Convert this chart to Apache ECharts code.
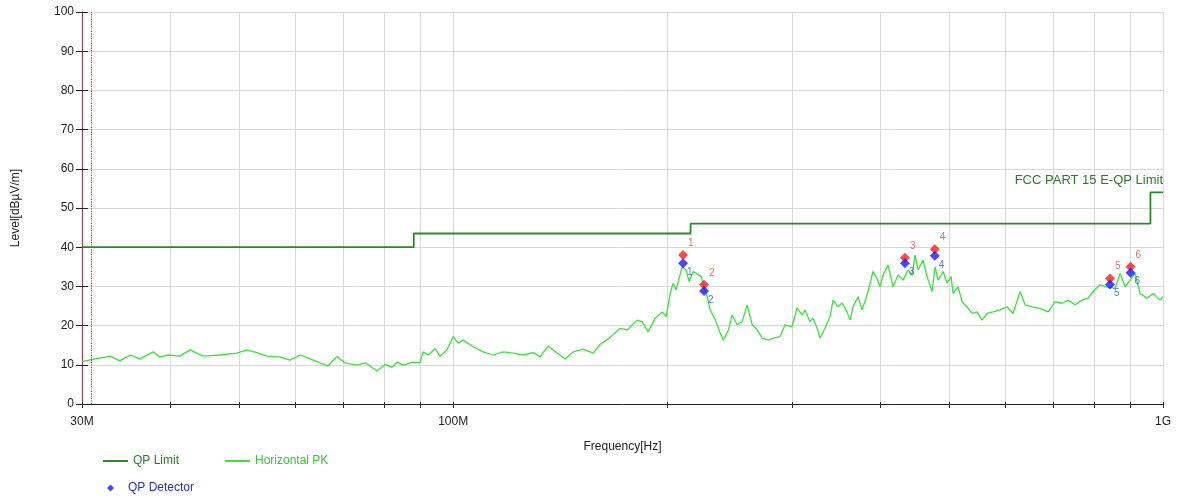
<!DOCTYPE html>
<html>
<head>
<meta charset="utf-8">
<script src="https://cdn.jsdelivr.net/npm/echarts@6/dist/echarts.min.js"></script>
<style>
html,body{margin:0;padding:0;background:#fff;}
#chart{width:1179px;height:498px;}
</style>
</head>
<body>
<div id="chart"></div>
<script>
// ---- data ----
const freqMHz = [30,31.3,32.9,33.9,35.1,36.2,37.8,38.6,39.7,41.2,42.6,44.4,46.9,49.6,51.2,52.9,54.7,57.0,58.9,60.9,62.9,64.9,66.6,68.6,70.4,73.2,75.2,78.1,80.2,82.0,83.4,85.0,87.8,89.8,90.7,92.2,94.3,95.8,98.0,100.0,101.6,103.3,106.7,110.2,113.8,117.6,121.5,125.5,129.6,132.6,136.1,140.1,143.8,147.6,152.4,157.5,161.1,166.4,171.9,175.8,181.6,184.6,188.2,192.6,197.0,199.6,202.2,204.1,206.1,210.2,212.9,215.0,217.8,223.5,225.0,227.9,230.2,234.1,237.9,240.3,244.2,247.2,251.3,255.4,259.5,263.8,268.1,272.5,277.8,282.4,288.7,293.5,300.2,305.1,310.1,313.1,318.2,321.4,325.6,328.7,334.1,339.6,342.9,348.5,353.1,358.8,362.3,365.9,371.9,376.7,382.9,386.6,390.4,395.5,399.4,403.3,409.9,416.6,423.4,430.3,437.4,443.1,447.4,451.8,459.2,465.2,472.8,477.4,482.1,490.0,496.4,502.9,506.1,514.4,521.1,529.6,538.2,547.1,556.0,565.1,576.2,589.4,603.0,614.8,629.0,639.2,654.0,671.2,688.8,704.6,720.8,735.0,751.9,769.1,784.3,797.1,815.4,834.1,856.1,870.1,884.3,898.7,913.5,928.4,949.7,968.4,990.6,1000];
const levelPK = [10.8,11.5,12.2,11.0,12.5,11.5,13.3,12.0,12.5,12.2,13.8,12.2,12.5,13.0,13.8,13.1,12.2,12.0,11.2,12.5,11.5,10.5,9.7,12.1,10.5,9.9,10.5,8.4,10.1,9.4,10.7,9.9,10.7,10.5,13.3,12.5,14.1,12.2,13.8,17.2,15.5,16.3,14.6,13.3,12.5,13.3,13.0,12.5,13.1,12.1,14.8,13.0,11.5,13.3,14.0,13.0,15.2,17.0,19.3,18.9,21.4,21.0,18.4,21.9,23.5,22.3,28.2,30.8,29.1,35.0,34.2,31.2,33.8,32.5,30.8,27.4,24.0,21.4,18.0,16.3,18.9,22.7,20.2,21.0,25.3,20.2,18.9,16.8,16.3,16.8,17.2,20.2,19.7,24.5,22.7,24.0,21.0,21.9,19.4,16.8,19.4,22.3,26.5,24.8,25.8,23.5,21.4,24.8,27.4,24.0,27.8,30.8,33.8,32.0,29.9,32.9,35.5,29.9,32.9,31.6,34.2,32.9,38.0,34.2,36.7,32.5,28.7,35.0,31.6,33.8,30.8,32.5,28.2,29.9,26.1,24.8,23.1,23.5,21.4,23.1,23.5,24.0,24.8,23.1,28.7,25.3,24.8,24.4,23.5,26.1,25.7,26.5,25.3,26.5,27.0,28.7,30.4,29.9,29.5,33.3,29.9,31.6,33.3,28.2,27.0,28.2,26.5,27.4];

const limitFreq = [30, 88, 216, 960, 1000];
const limitLevel = [40, 43.5, 46, 54, 54];

const markerFreq = [210.8, 225.6, 433, 477, 842, 900];
const markerPK = [38.0, 30.4, 37.3, 39.5, 32.0, 35.0];
const markerQP = [35.9, 28.8, 35.9, 37.8, 30.5, 33.5];

const cursorFreq = 31.15;
const xTickFreq = [30,40,50,60,70,80,90,100,200,300,400,500,600,700,800,900,1000];
const xLabelFreq = [30, 100, 1000];
const xLabelText = ['30M', '100M', '1G'];
const limitName = 'FCC PART 15 E-QP Limit';

// ---- build ----
const L = Math.log10;
const pairs = (fs, vs) => fs.map((f, i) => [L(f), vs[i]]);
const fmtX = v => {
  for (let i = 0; i < xLabelFreq.length; i++) if (Math.abs(L(xLabelFreq[i]) - v) < 1e-6) return xLabelText[i];
  return '';
};
const FONT = 'Liberation Sans, Arial, sans-serif';
const xMin = L(30), xMax = L(1000);

const chart = echarts.init(document.getElementById('chart'));
chart.setOption({
  animation: false,
  textStyle: { fontFamily: FONT },
  grid: { left: 82, right: 16, top: 12, bottom: 94 },
  xAxis: [{
    type: 'value', min: xMin, max: xMax,
    name: 'Frequency[Hz]', nameLocation: 'middle', nameGap: 37,
    nameTextStyle: { color: '#222', fontSize: 12, fontFamily: FONT },
    axisLine: { show: true, onZero: false, lineStyle: { color: '#222', width: 1 } },
    axisTick: { show: true, customValues: xTickFreq.map(L), length: 4, lineStyle: { color: '#222' } },
    axisLabel: { customValues: xLabelFreq.map(L), formatter: fmtX, color: '#222', fontSize: 12, margin: 12 },
    splitLine: { show: true, lineStyle: { color: '#d8d8d8', width: 1 } }
  }, {
    type: 'value', min: xMin, max: xMax, position: 'bottom',
    axisLine: { show: false },
    axisTick: { show: true, inside: true, customValues: xTickFreq.map(L), length: 2, lineStyle: { color: '#222' } },
    axisLabel: { show: false },
    splitLine: { show: false }
  }],
  yAxis: [{
    type: 'value', min: 0, max: 100, interval: 10,
    name: 'Level[dBµV/m]', nameLocation: 'middle', nameGap: 60,
    nameTextStyle: { color: '#222', fontSize: 12, fontFamily: FONT },
    axisLine: { show: true, lineStyle: { color: '#8e4466', width: 1.2 } },
    axisTick: { show: true, length: 6, lineStyle: { color: '#222' } },
    axisLabel: { color: '#222', fontSize: 12, margin: 8 },
    splitLine: { show: true, lineStyle: { color: '#d8d8d8', width: 1 } }
  }, {
    type: 'value', min: 0, max: 100, interval: 10, position: 'left',
    axisLine: { show: false },
    axisTick: { show: true, inside: true, length: 6, lineStyle: { color: '#222' } },
    axisLabel: { show: false },
    splitLine: { show: false }
  }],
  legend: [{
    left: 98, top: 450, itemWidth: 25, itemHeight: 2, itemGap: 46,
    textStyle: { fontSize: 12, fontFamily: FONT },
    data: [
      { name: 'QP Limit', icon: 'rect', textStyle: { color: '#2a7a2a' } },
      { name: 'Horizontal PK', icon: 'rect', textStyle: { color: '#33cc33' } }
    ]
  }, {
    left: 102, top: 477, itemWidth: 25, itemHeight: 7, symbolKeepAspect: true,
    textStyle: { fontSize: 12, fontFamily: FONT },
    data: [{ name: 'QP Detector', icon: 'path://M5,0L10,5L5,10L0,5Z', textStyle: { color: '#2233bb' } }]
  }],
  series: [
    {
      name: 'QP Limit', type: 'line', step: 'end', symbol: 'none',
      data: pairs(limitFreq, limitLevel),
      lineStyle: { color: '#2a8a2a', width: 1.8 },
      itemStyle: { color: '#2a8a2a' },
      z: 3,
      markPoint: {
        symbol: 'circle', symbolSize: 0, silent: true,
        data: [{ coord: [xMax, limitLevel[limitLevel.length - 1]] }],
        label: {
          show: true, position: 'left', distance: 0, offset: [0, -12],
          formatter: limitName, color: '#2a7a2a', fontSize: 13, fontFamily: FONT
        }
      }
    },
    {
      name: 'Horizontal PK', type: 'line', symbol: 'none',
      data: pairs(freqMHz, levelPK),
      lineStyle: { color: '#3ee03e', width: 1.3 },
      itemStyle: { color: '#3ee03e' },
      z: 2,
      markLine: {
        silent: true, symbol: 'none',
        label: { show: false },
        lineStyle: { color: '#d42a2a', type: 'dotted', width: 1.2 },
        data: [{ xAxis: L(cursorFreq), lineStyle: { color: '#d42a2a', type: 'dotted', width: 1.2 } }]
      }
    },
    {
      name: 'PK Detector', type: 'scatter', symbol: 'diamond', symbolSize: 10,
      data: pairs(markerFreq, markerPK),
      itemStyle: { color: '#ff1a1a' },
      z: 5,
      label: {
        show: true, position: 'right', distance: 0, offset: [0, -12],
        formatter: p => String(p.dataIndex + 1), color: '#e04848', fontSize: 10, fontFamily: FONT
      }
    },
    {
      name: 'QP Detector', type: 'scatter', symbol: 'diamond', symbolSize: 10,
      data: pairs(markerFreq, markerQP),
      itemStyle: { color: '#1a1aff' },
      z: 6,
      label: {
        show: true, position: 'right', distance: 0, offset: [-1, 9],
        formatter: p => String(p.dataIndex + 1), color: '#3355cc', fontSize: 10, fontFamily: FONT
      }
    }
  ]
});
</script>
</body>
</html>
